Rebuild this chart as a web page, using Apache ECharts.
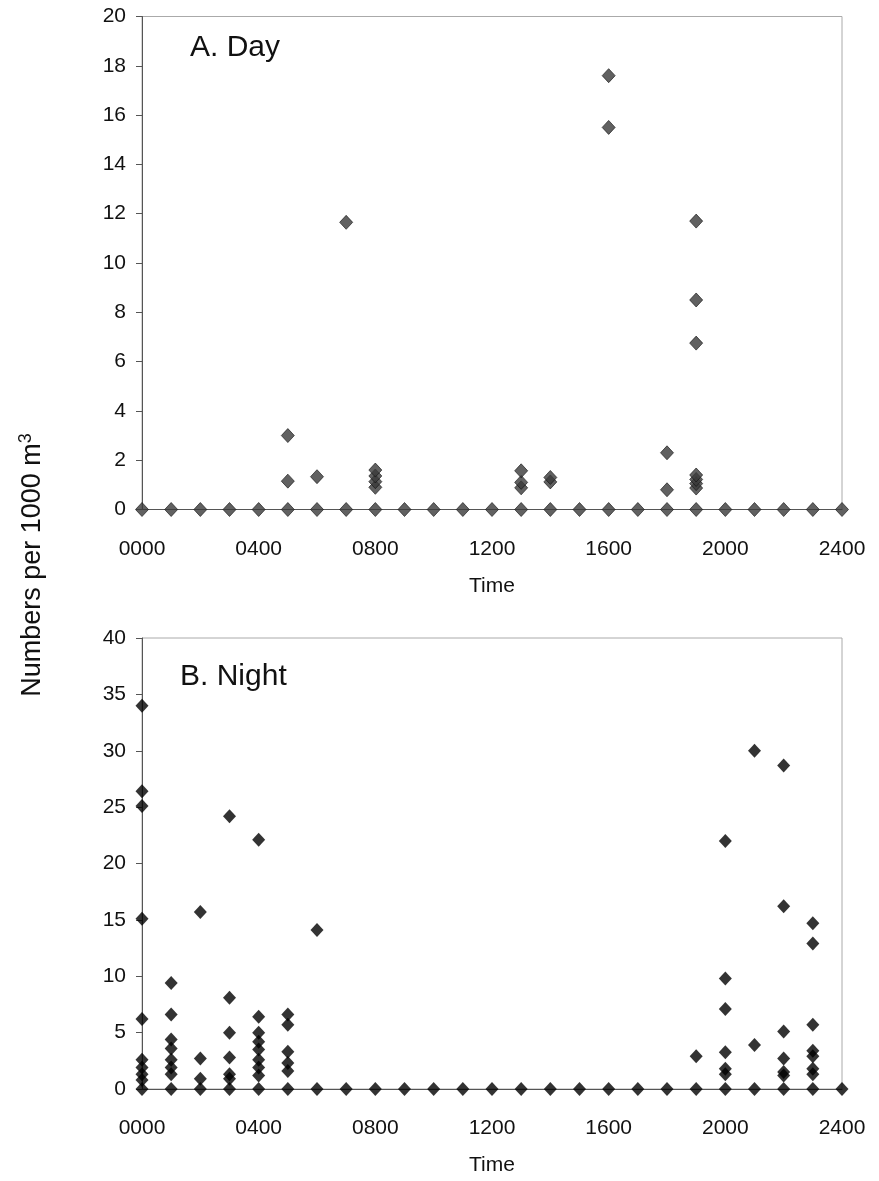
<!DOCTYPE html>
<html>
<head>
<meta charset="utf-8">
<script src="https://cdn.jsdelivr.net/npm/echarts@6/dist/echarts.min.js"></script>
<style>
  html, body { margin: 0; padding: 0; background: #fff; }
  #chart { width: 879px; height: 1181px; }
</style>
</head>
<body>
<div id="chart"></div>
<script>
// Sampling times (HHMM as numbers), one tow per hour
const hours = [0, 100, 200, 300, 400, 500, 600, 700, 800, 900, 1000, 1100, 1200,
               1300, 1400, 1500, 1600, 1700, 1800, 1900, 2000, 2100, 2200, 2300, 2400];
const timeTicks = ['0000', '0400', '0800', '1200', '1600', '2000', '2400'];

// Day tows: densities (numbers per 1000 m3) recorded at each hour
const dayValues = [
  [0], [0], [0], [0], [0],
  [0, 1.15, 3.0],              // 0500
  [0, 1.33],                   // 0600
  [0, 11.65],                  // 0700
  [0, 0.9, 1.13, 1.36, 1.6],   // 0800
  [0], [0], [0], [0],
  [0, 0.88, 1.1, 1.57],        // 1300
  [0, 1.12, 1.3],              // 1400
  [0],
  [0, 15.5, 17.6],             // 1600
  [0],
  [0, 0.8, 2.3],               // 1800
  [0, 0.87, 1.05, 1.22, 1.4, 6.75, 8.5, 11.7], // 1900
  [0], [0], [0], [0], [0]
];

// Night tows
const nightValues = [
  [0, 0.8, 1.3, 1.9, 2.6, 6.2, 15.1, 25.1, 26.4, 34.0],   // 0000
  [0, 1.3, 1.9, 2.6, 3.6, 4.4, 6.6, 9.4],                  // 0100
  [0, 0.9, 2.7, 15.7],                                     // 0200
  [0, 0.9, 1.3, 2.8, 5.0, 8.1, 24.2],                      // 0300
  [0, 1.2, 1.9, 2.6, 3.5, 4.2, 5.0, 6.4, 22.1],            // 0400
  [0, 1.6, 2.3, 3.3, 5.7, 6.6],                            // 0500
  [0, 14.1],                                               // 0600
  [0], [0], [0], [0], [0], [0], [0], [0], [0], [0], [0], [0],
  [0, 2.9],                                                // 1900
  [0, 1.3, 1.8, 3.25, 7.1, 9.8, 22.0],                     // 2000
  [0, 3.9, 30.0],                                          // 2100
  [0, 1.2, 1.5, 2.7, 5.1, 16.2, 28.7],                     // 2200
  [0, 1.3, 1.8, 2.9, 3.4, 5.7, 12.9, 14.7],                // 2300
  [0]                                                      // 2400
];

function toPoints(valuesByHour) {
  const pts = [];
  valuesByHour.forEach((vals, i) => vals.forEach(v => pts.push([hours[i], v])));
  return pts;
}

const FONT = '"Liberation Sans", Arial, sans-serif';
const chart = echarts.init(document.getElementById('chart'), null, { renderer: 'canvas' });

function xAxisFor(gridIndex) {
  return {
    gridIndex: gridIndex,
    type: 'value',
    min: 0, max: 2400, interval: 400,
    name: 'Time',
    nameLocation: 'middle',
    nameGap: 66,
    nameTextStyle: { fontFamily: FONT, fontSize: 21, color: '#111' },
    axisLine: { show: true, lineStyle: { color: '#555', width: 1 } },
    axisTick: { show: false },
    splitLine: { show: false },
    axisLabel: {
      fontFamily: FONT, fontSize: 21, color: '#111', margin: 29,
      formatter: v => timeTicks[Math.round(v / 400)]
    }
  };
}

function yAxisFor(gridIndex, max, interval) {
  return {
    gridIndex: gridIndex,
    type: 'value',
    min: 0, max: max, interval: interval,
    axisLine: { show: true, lineStyle: { color: '#555', width: 1 } },
    axisTick: { show: true, inside: false, length: 6, lineStyle: { color: '#555' } },
    splitLine: { show: false },
    axisLabel: { fontFamily: FONT, fontSize: 21, color: '#111', margin: 16 }
  };
}

const option = {
  backgroundColor: '#ffffff',
  animation: false,
  grid: [
    { left: 142, width: 700, top: 16.5, height: 493, show: true, borderColor: '#aaa', borderWidth: 1 },
    { left: 142, width: 700, top: 638, height: 451, show: true, borderColor: '#aaa', borderWidth: 1 }
  ],
  xAxis: [xAxisFor(0), xAxisFor(1)],
  yAxis: [yAxisFor(0, 20, 2), yAxisFor(1, 40, 5)],
  series: [
    {
      name: 'Day', type: 'scatter', xAxisIndex: 0, yAxisIndex: 0,
      symbol: 'diamond', symbolSize: [13, 14],
      itemStyle: { color: '#3a3a3a', borderColor: '#111', borderWidth: 0.8 },
      data: toPoints(dayValues)
    },
    {
      name: 'Night', type: 'scatter', xAxisIndex: 1, yAxisIndex: 1,
      symbol: 'diamond', symbolSize: [13, 14],
      itemStyle: { color: '#000000' },
      data: toPoints(nightValues)
    }
  ],
  graphic: [
    {
      type: 'text', left: 190, top: 33,
      style: { text: 'A. Day', fontFamily: FONT, fontSize: 30, fill: '#111' }
    },
    {
      type: 'text', left: 180, top: 662,
      style: { text: 'B. Night', fontFamily: FONT, fontSize: 30, fill: '#111' }
    },
    {
      type: 'text', x: 33, y: 565, rotation: Math.PI / 2,
      style: {
        text: 'Numbers per 1000 m{sup|3}',
        fontFamily: FONT, fontSize: 27, fill: '#111',
        align: 'center', verticalAlign: 'middle',
        rich: {
          sup: { fontFamily: FONT, fontSize: 18, fill: '#111', verticalAlign: 'top', padding: [0, 0, 14, 0] }
        }
      }
    }
  ]
};

chart.setOption(option);
</script>
</body>
</html>
